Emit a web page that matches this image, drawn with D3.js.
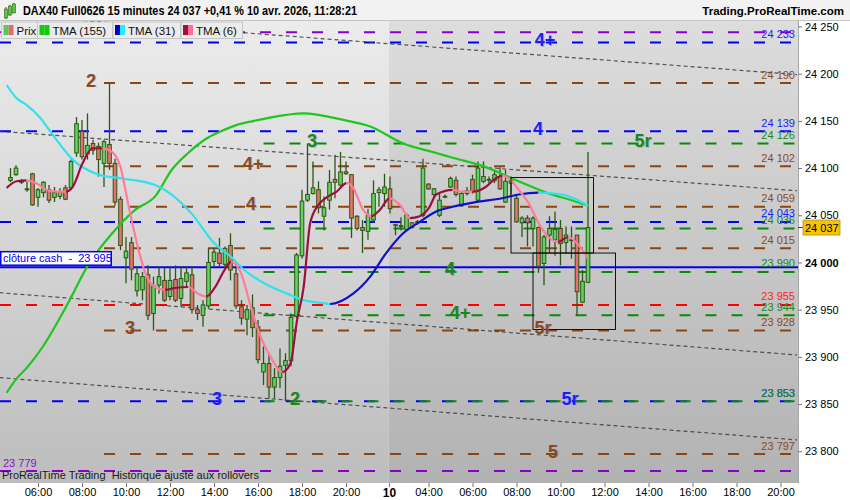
<!DOCTYPE html>
<html><head><meta charset="utf-8">
<script src="https://cdn.jsdelivr.net/npm/d3@7/dist/d3.min.js"></script>
<style>
body{margin:0;background:#fff;}
svg{display:block;font-family:"Liberation Sans",Arial,sans-serif;}
</style></head><body>
<svg id="c" width="850" height="500"></svg>
<script>
// ---------------- DATA ----------------
const titleText = "DAX40 Full0626 15 minutes 24 037 +0,41 % 10 avr. 2026, 11:28:21";
const siteText = "Trading.ProRealTime.com";
const legendNames = ["Prix", "TMA (155)", "TMA (31)", "TMA (6)"];

// 15-minute bars, first bar at session hour 4.75 (04:45, 9 avr.)
const firstBarHour = 4.75;
const barStep = 0.25;
const candleOpen = [24087,24093,24086,24078,24094,24069,24074,24077,24069,24070,24079,24079,24116,24139,24115,24126,24123,24105,24125,24105,
24067,24005,24021,23970,23971,23987,23946,23976,23981,23964,23982,23962,23980,23987,23950,23944,23954,24001,24010,23998,
24018,23988,23953,23940,23952,23932,23884,23893,23868,23878,23891,23896,23943,24007,24066,24073,24077,24049,24066,24088,
24082,24096,24093,24049,24037,24033,24045,24074,24073,24078,24040,24039,24035,24042,24042,24050,24083,24072,24050,24070,
24080,24087,24060,24073,24088,24066,24086,24088,24087,24091,24064,24084,24068,24042,24047,24036,24037,23999,24029,24024,
24036,24021,24024,24029,23958,23979];
const candleHigh = [24100,24103,24088,24086,24095,24079,24086,24082,24080,24079,24082,24109,24154,24151,24158,24130,24127,24130,24190,24110,
24070,24027,24027,23996,23990,23997,23985,23996,23994,23996,23997,23996,23996,23996,23955,23960,24015,24015,24026,24017,
24031,23997,23960,23955,23966,23939,23911,23904,23888,23909,23904,23946,24010,24077,24126,24107,24086,24070,24098,24114,
24117,24107,24093,24050,24045,24057,24087,24080,24094,24091,24041,24048,24052,24043,24045,24110,24084,24079,24074,24072,
24091,24091,24075,24080,24093,24107,24107,24091,24098,24101,24098,24091,24072,24049,24050,24049,24038,24029,24049,24054,
24045,24038,24038,24029,23992,24117];
const candleLow = [24085,24092,24083,24075,24060,24059,24069,24063,24064,24067,24066,24077,24112,24109,24109,24114,24091,24080,24098,24060,
24013,23978,23981,23964,23960,23939,23928,23967,23958,23960,23958,23953,23974,23946,23939,23932,23951,23996,23996,23994,
23981,23951,23934,23923,23921,23893,23870,23856,23856,23867,23853,23890,23941,24004,24064,24072,24052,24034,24056,24068,
24079,24093,24026,24034,24010,24024,24042,24059,24059,24052,24029,24034,24034,24036,24040,24048,24077,24068,24048,24068,
24079,24070,24059,24071,24073,24064,24084,24084,24084,24077,24063,24072,24042,24027,24017,24017,23989,23976,24010,24007,
23997,24010,24004,23944,23957,23978];
const candleClose = [24090,24100,24085,24077,24061,24077,24085,24066,24074,24075,24067,24107,24147,24112,24124,24119,24109,24128,24105,24064,
24018,24012,23993,23988,23985,23944,23975,23985,23960,23981,23960,23983,23989,23950,23946,23955,24000,24011,23999,24015,
23992,23954,23941,23950,23931,23897,23893,23868,23878,23890,23896,23942,24008,24065,24072,24079,24058,24058,24085,24085,
24096,24094,24047,24036,24034,24050,24073,24077,24080,24057,24040,24039,24050,24037,24043,24100,24078,24078,24066,24070,
24089,24072,24073,24076,24075,24100,24091,24088,24093,24078,24086,24087,24043,24047,24042,24047,23996,24027,24036,24035,
24020,24029,24024,23969,23980,24037];

// Moving averages, read at bar positions (bar index may be fractional)
const tma155Bar = [-0.7,1.1,2.9,5.9,10.1,14.3,18.5,22.7,26.3,29.3,32.3,35.3,38.3,41.3,44.3,46.7,53.3,60.5,65.4,71.4,77.4,80.4,86.4,92.4,98.4,102,105];
const tma155Val = [23862,23877,23888,23911,23953,23999,24031,24056,24070,24098,24116,24130,24139,24146,24150,24153,24158,24151,24144,24126,24116,24111,24101,24086,24072,24066,24060];
const tma31Bar = [-0.7,1.1,2.9,5.3,7.1,11.3,16.1,20.3,26.3,29.3,32.9,37.1,40.1,42.5,46.1,50.3,53.3,56.9,58.1,62.3,65.4,68.3,71.4,74.4,77.4,80.4,84.6,89.4,92.4,96,100.2,103.2,105];
const tma31Val = [24188,24174,24167,24154,24140,24109,24093,24089,24082,24072,24052,24020,24006,23992,23978,23967,23960,23957,23956,23967,23985,24010,24031,24043,24054,24059,24064,24068,24072,24074,24072,24066,24060];
const tma6Bar = [-0.7,1.1,2.9,4.7,6.5,8.3,10.1,11.3,13.1,14.9,16.7,18.5,20,21.5,23.3,24.5,26.3,28.1,29.9,32.3,34.1,35.6,37.1,38.9,40.1,41.9,43.7,45.5,47.3,49.4,50.9,52.1,53.3,54.5,56,57.5,59.3,61.1,62.3,64.1,65.6,67.2,68.9,70.8,72.6,74.4,76.2,77.4,80.4,82.2,84,86.4,88.2,89.4,90.6,92.4,94.2,96,97.8,99.6,101.4,103.2,105];
const tma6Val = [24079,24086,24087,24084,24077,24075,24075,24080,24105,24121,24121,24117,24101,24059,24013,23989,23974,23971,23973,23974,23967,23964,23973,23992,24001,23989,23953,23921,23900,23884,23893,23939,23974,24042,24061,24069,24075,24084,24079,24056,24049,24056,24068,24061,24047,24049,24059,24072,24077,24075,24075,24080,24089,24092,24089,24077,24063,24042,24027,24022,24027,24019,24004];

// Horizontal levels
const purpleLevels = [24244, 23779];
const blueLevels = [24233, 24139, 24043, 23853];
const redLevels = [23955];
const brownLevels = [24190, 24102, 24059, 24015, 23928, 23797];
const greenLevels = [24126, 24036, 23990, 23944, 23853];
const brownFromHour = 9.0;
const greenFromHour = 16.25;
const cashClose = 23995;
const cashLabel = "clôture cash  -  23 995";
const lastPrice = 24037;

// Level tags
const tagText  = ["2","4+","4","5r","3","4+","4","4","4+","5r","3","3","2","5r","5"];
const tagFamily= ["brown","blue","blue","green","green","brown","brown","green","green","brown","brown","blue","green","blue","brown"];
const tagLevel = [24190,24233,24139,24126,24126,24102,24059,23990,23944,23928,23928,23853,23853,23853,23797];
const tagHour  = [8.41,29.05,28.73,33.5,18.45,15.77,15.68,24.73,25.18,28.95,10.18,14.14,17.68,30.18,29.41];

// Rectangles
const boxFromHour = [27.5, 28.5];
const boxToHour   = [31.25, 32.25];
const boxHigh     = [24090, 24010];
const boxLow      = [24010, 23929];

// Dotted trend lines
const trendFromHour = 4.25, trendToHour = 40.5;
const trendFromVal = [24263, 24139, 23968, 23878];
const trendToVal   = [24199, 24076, 23902, 23812];

// Axes
const xTickHours  = [6,8,10,12,14,16,18,20,21.95,23.75,25.75,27.75,29.75,31.75,33.75,35.75,37.75,39.75];
const xTickLabels = ["06:00","08:00","10:00","12:00","14:00","16:00","18:00","20:00","10","04:00","06:00","08:00","10:00","12:00","14:00","16:00","18:00","20:00"];
const day10StartHour = 21.95;
const yTicks = [23800,23850,23900,23950,24000,24050,24100,24150,24200,24250];

// ---------------- CHART ----------------
const P = {left:0, right:798, top:21, bottom:483};
const x = d3.scaleLinear().domain([6, 39.75]).range([38, 780.5]);
const y = d3.scaleLinear().domain([23766.4, 24255.8]).range([P.bottom, P.top]);
const barHour = i => firstBarHour + barStep * i;
const fmt = v => d3.format(",")(v).replace(/,/g, " ");

const LINE = {blue:"#0000f2", brown:"#8a4512", green:"#0b870b", red:"#ff0000", purple:"#8a00c8"};
const TXT  = {blue:"#1c1cff", brown:"#8c4a1c", green:"#168a16", red:"#ff1c1c", purple:"#8a10c8"};

const svg = d3.select("#c");
const defs = svg.append("defs");
function grad(id, c0, c1){
  const g = defs.append("linearGradient").attr("id", id).attr("x1",0).attr("y1",0).attr("x2",0).attr("y2",1);
  g.append("stop").attr("offset",0).attr("stop-color",c0);
  g.append("stop").attr("offset",1).attr("stop-color",c1);
}
grad("bgL","#ececec","#bdbdbd");
grad("bgR","#dddddd","#b2b2b2");
defs.append("clipPath").attr("id","plotClip").append("rect")
  .attr("x",P.left).attr("y",P.top).attr("width",P.right-P.left).attr("height",P.bottom-P.top);

svg.append("rect").attr("width",850).attr("height",500).attr("fill","#fff");
// backgrounds
svg.append("rect").attr("x",P.left).attr("y",P.top).attr("width",x(day10StartHour)-P.left).attr("height",P.bottom-P.top).attr("fill","url(#bgL)");
svg.append("rect").attr("x",x(day10StartHour)).attr("y",P.top).attr("width",P.right-x(day10StartHour)).attr("height",P.bottom-P.top).attr("fill","url(#bgR)");

const plot = svg.append("g").attr("clip-path","url(#plotClip)");

// levels
function levels(vals, fam, fromHour){
  const x0 = fromHour == null ? P.left : x(fromHour);
  plot.append("g").selectAll("line").data(vals).join("line")
    .attr("x1", x0).attr("x2", P.right)
    .attr("y1", d => y(d)).attr("y2", d => y(d))
    .attr("stroke", LINE[fam]).attr("stroke-width", 2)
    .attr("stroke-dasharray","11,15");
}
levels(purpleLevels, "purple");
levels(blueLevels, "blue");
levels(redLevels, "red");
levels(brownLevels, "brown", brownFromHour);
levels(greenLevels, "green", greenFromHour);

// cash close line
plot.append("line").attr("x1",P.left).attr("x2",P.right).attr("y1",y(cashClose)).attr("y2",y(cashClose))
  .attr("stroke","#0000ee").attr("stroke-width",2);

// trend lines
plot.append("g").selectAll("line").data(trendFromVal).join("line")
  .attr("x1", x(trendFromHour)).attr("x2", x(trendToHour))
  .attr("y1", d => y(d)).attr("y2", (d,i) => y(trendToVal[i]))
  .attr("stroke","#3c3c3c").attr("stroke-width",1.2).attr("stroke-dasharray","4,3").attr("opacity",0.85);

// candles
const candles = plot.append("g");
candleOpen.forEach((o,i) => {
  const c = candleClose[i], h = candleHigh[i], l = candleLow[i];
  const cx = x(barHour(i));
  candles.append("line").attr("x1",cx).attr("x2",cx).attr("y1",y(h)).attr("y2",y(l))
    .attr("stroke","#2b5514").attr("stroke-width",1.3);
  const top = y(Math.max(o,c)), bot = y(Math.min(o,c));
  candles.append("rect").attr("x",cx-1.8).attr("width",3.6)
    .attr("y",top).attr("height",Math.max(bot-top,0.8))
    .attr("fill", c >= o ? "#5fd45f" : "#e6736b")
    .attr("stroke","#2b5514").attr("stroke-width",1);
});

// moving averages
let clipId = 0;
function ma(bars, vals, upCol, downCol, width){
  const pts = bars.map((b,k) => [x(barHour(b)), y(vals[k])]);
  const d = d3.line().curve(d3.curveMonotoneX)(pts);
  if (upCol === downCol){
    plot.append("path").attr("d",d).attr("fill","none").attr("stroke",upCol).attr("stroke-width",width);
    return;
  }
  const runs = [];
  let start = 0, dir = vals[1] >= vals[0] ? 1 : -1;
  for (let k = 1; k < vals.length; k++){
    let s = vals[k] > vals[k-1] ? 1 : (vals[k] < vals[k-1] ? -1 : dir);
    if (s !== dir){ runs.push({a:start, b:k-1, dir}); start = k-1; dir = s; }
  }
  runs.push({a:start, b:vals.length-1, dir});
  runs.forEach((r, ri) => {
    const id = "maclip" + (clipId++);
    const xa = ri === 0 ? P.left - 5 : pts[r.a][0];
    const xb = ri === runs.length-1 ? P.right : pts[r.b][0];
    defs.append("clipPath").attr("id", id).append("rect")
      .attr("x", xa).attr("y", 0).attr("width", Math.max(xb - xa, 0.1)).attr("height", 500);
    plot.append("g").attr("clip-path", `url(#${id})`).append("path")
      .attr("d", d).attr("fill","none").attr("stroke", r.dir > 0 ? upCol : downCol)
      .attr("stroke-width", width).attr("stroke-linejoin","round");
  });
}
ma(tma155Bar, tma155Val, "#1fc61f", "#1fc61f", 2.2);
ma(tma31Bar, tma31Val, "#1010c8", "#2fe3ee", 2.2);
ma(tma6Bar, tma6Val, "#9b0f3f", "#ff7b9c", 2.2);

// rectangles
plot.append("g").selectAll("rect").data(boxFromHour).join("rect")
  .attr("x", d => x(d)).attr("width", (d,i) => x(boxToHour[i]) - x(d))
  .attr("y", (d,i) => y(boxHigh[i])).attr("height", (d,i) => y(boxLow[i]) - y(boxHigh[i]))
  .attr("fill","none").attr("stroke","#111").attr("stroke-width",1);

// tags
const tags = plot.append("g").attr("font-weight","bold").attr("font-size",18).attr("text-anchor","middle");
tagText.forEach((t,i) => {
  const tx = x(tagHour[i]), ty = y(tagLevel[i]) + 3.5;
  tags.append("text").attr("x",tx+1).attr("y",ty+0.5).attr("fill","#7c7cb4").attr("opacity",0.45).text(t);
  tags.append("text").attr("x",tx).attr("y",ty).attr("fill",TXT[tagFamily[i]]).text(t);
});

// right-side level values
const rl = plot.append("g").attr("font-size",11).attr("text-anchor","end");
function rightLabels(vals, fam){
  vals.forEach(v => rl.append("text").attr("x",795).attr("y",y(v)-4.5).attr("fill",TXT[fam]).text(fmt(v)));
}
rightLabels(brownLevels, "brown");
rightLabels(greenLevels.filter(v => v !== 23853), "green");
rightLabels(redLevels, "red");
rightLabels(blueLevels, "blue");
rightLabels([23853], "green");

// purple bottom label & footer text
plot.append("text").attr("x",3).attr("y",y(purpleLevels[1])-4).attr("font-size",11).attr("fill",TXT.purple).text(fmt(purpleLevels[1]));
plot.append("text").attr("x",2).attr("y",479).attr("font-size",11).attr("fill","#1a1a1a")
  .style("white-space","pre").text("ProRealTime Trading  Historique ajusté aux rollovers");

// cash close label
const cy = y(cashClose);
plot.append("rect").attr("x",0.75).attr("y",cy-15.5).attr("width",110.5).attr("height",13.5)
  .attr("fill","#fff").attr("stroke","#0000ee").attr("stroke-width",1.5);
plot.append("text").attr("x",3).attr("y",cy-5).attr("font-size",11).attr("fill","#0000ee")
  .style("white-space","pre").text(cashLabel);

// right axis
svg.append("line").attr("x1",P.right+0.5).attr("x2",P.right+0.5).attr("y1",P.top).attr("y2",P.bottom).attr("stroke","#a8a8a8");
const yAxis = svg.append("g").attr("transform",`translate(${P.right},0)`)
  .call(d3.axisRight(y).tickValues(yTicks).tickSize(4).tickPadding(3).tickFormat(fmt));
yAxis.select(".domain").remove();
yAxis.selectAll("line").attr("stroke","#777");
yAxis.selectAll("text").attr("font-size",11).attr("font-family","Liberation Sans, Arial, sans-serif").attr("fill","#000")
  .attr("font-weight", d => d === 24000 ? "bold" : "normal");

// last price box
const ly = y(lastPrice);
svg.append("line").attr("x1",P.right).attr("x2",P.right+5).attr("y1",ly).attr("y2",ly).attr("stroke","#333");
svg.append("rect").attr("x",803).attr("y",ly-7.5).attr("width",37).attr("height",15)
  .attr("fill","#f7c500").attr("stroke","#b09040").attr("stroke-width",0.8);
svg.append("text").attr("x",805).attr("y",ly+4).attr("font-size",11).attr("fill","#000").text(fmt(lastPrice));

// bottom axis
const xAxis = svg.append("g").attr("transform",`translate(0,${P.bottom})`)
  .call(d3.axisBottom(x).tickValues(xTickHours).tickSize(4).tickPadding(1).tickFormat((d,i) => xTickLabels[i]));
xAxis.select(".domain").remove();
xAxis.selectAll("line").attr("stroke","#777");
xAxis.selectAll("text").attr("font-family","Liberation Sans, Arial, sans-serif").attr("fill","#000")
  .attr("font-weight", (d,i) => xTickLabels[i] === "10" ? "bold" : "normal")
  .attr("font-size", (d,i) => xTickLabels[i] === "10" ? 12 : 11);

// header
svg.append("rect").attr("x",0).attr("y",0).attr("width",850).attr("height",P.top).attr("fill","#f2f2f2");
svg.append("line").attr("x1",0).attr("x2",850).attr("y1",P.top-0.5).attr("y2",P.top-0.5).attr("stroke","#c4c4c4");
const icon = svg.append("g");
[[6,9,16,6,18],[10,6,13,4,15],[14,4,11,2,12]].forEach(([cx,t,h,wt,wb]) => {
  icon.append("line").attr("x1",cx).attr("x2",cx).attr("y1",wt+1).attr("y2",wb+1).attr("stroke","#3a5a1a").attr("stroke-width",1);
  icon.append("rect").attr("x",cx-1.5).attr("y",t).attr("width",3).attr("height",h-t+2).attr("fill","#55cc44").attr("stroke","#3a5a1a").attr("stroke-width",0.6);
});
svg.append("text").attr("x",23).attr("y",15).attr("font-size",12).attr("font-weight","bold").attr("fill","#000")
  .attr("textLength",334).attr("lengthAdjust","spacingAndGlyphs").text(titleText);
svg.append("text").attr("x",844).attr("y",15).attr("font-size",11.5).attr("font-weight","bold").attr("fill","#000")
  .attr("text-anchor","end").text(siteText);

// legend
const legBoxes = [[1.5,36],[37.5,75],[113,67.5],[181,61.5]];
const legSw = [["#55cc55","#e06c6c"],["#11cc11","#11cc11"],["#0000cc","#22eeff"],["#a0103c","#ff6f96"]];
const leg = svg.append("g");
legendNames.forEach((n,i) => {
  const [lx,lw] = legBoxes[i];
  leg.append("rect").attr("x",lx).attr("y",P.top+1).attr("width",lw).attr("height",16.5)
    .attr("fill","#ebebeb").attr("stroke","#c6c6c6").attr("stroke-width",1);
  leg.append("rect").attr("x",lx+2).attr("y",P.top+4).attr("width",5).attr("height",10).attr("fill",legSw[i][0]);
  leg.append("rect").attr("x",lx+7).attr("y",P.top+4).attr("width",5).attr("height",10).attr("fill",legSw[i][1]);
  leg.append("text").attr("x",lx+15).attr("y",P.top+13.5).attr("font-size",11.5).attr("fill","#111").text(n);
});
</script>
</body></html>
